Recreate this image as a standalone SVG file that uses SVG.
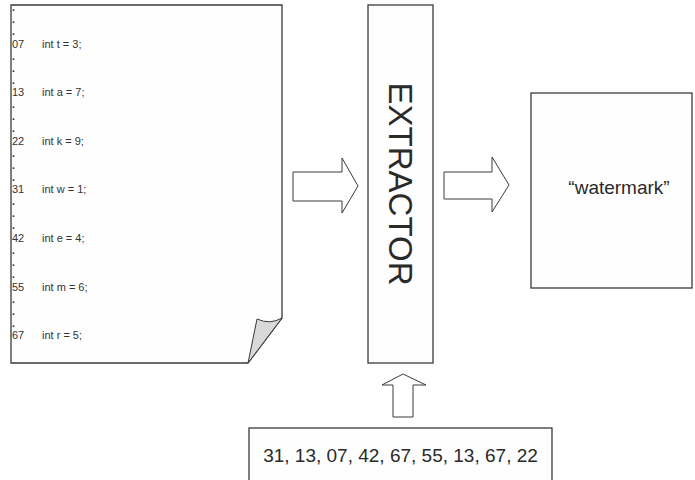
<svg xmlns="http://www.w3.org/2000/svg" width="695" height="480" viewBox="0 0 695 480">
  <style>
    .box { fill: #fefefe; stroke: #3a3a3a; stroke-width: 1.3; }
    .arrow { fill: #ffffff; stroke: #3a3a3a; stroke-width: 1; stroke-linejoin: miter; }
    .code { font-family: "Liberation Sans", Arial, sans-serif; font-size: 11px; fill: #333333; }
    .dot { font-family: "Liberation Sans", Arial, sans-serif; font-size: 10px; font-weight: bold; fill: #222222; }
    .label { font-family: "Liberation Sans", Arial, sans-serif; fill: #2a2a2a; }
  </style>

  <rect width="695" height="480" fill="#ffffff"/>

  <!-- source listing on a page with a curled corner -->
  <g id="source">
    <path class="box" d="M11,5 H282 V318 L248,363 H11 Z"/>
    <path d="M257,319 Q270,325 282,318 L248,363 Z" fill="#d9d9d9" stroke="#3a3a3a" stroke-width="1"/>
    <g class="dot">
      <text x="12" y="11">.</text><text x="12" y="23">.</text><text x="12" y="35">.</text>
      <text x="12" y="59.6">.</text><text x="12" y="71.6">.</text><text x="12" y="83.6">.</text>
      <text x="12" y="108.2">.</text><text x="12" y="120.2">.</text><text x="12" y="132.2">.</text>
      <text x="12" y="156.8">.</text><text x="12" y="168.8">.</text><text x="12" y="180.8">.</text>
      <text x="12" y="205.4">.</text><text x="12" y="217.4">.</text><text x="12" y="229.4">.</text>
      <text x="12" y="254">.</text><text x="12" y="266">.</text><text x="12" y="278">.</text>
      <text x="12" y="302.6">.</text><text x="12" y="314.6">.</text><text x="12" y="326.6">.</text>
    </g>
    <g class="code">
      <text x="12" y="47.5">07</text><text x="42" y="47.5">int t = 3;</text>
      <text x="12" y="96.1">13</text><text x="42" y="96.1">int a = 7;</text>
      <text x="12" y="144.7">22</text><text x="42" y="144.7">int k = 9;</text>
      <text x="12" y="193.3">31</text><text x="42" y="193.3">int w = 1;</text>
      <text x="12" y="241.9">42</text><text x="42" y="241.9">int e = 4;</text>
      <text x="12" y="290.5">55</text><text x="42" y="290.5">int m = 6;</text>
      <text x="12" y="339.1">67</text><text x="42" y="339.1">int r = 5;</text>
    </g>
  </g>

  <!-- extractor -->
  <g id="extractor">
    <rect class="box" x="368" y="5" width="65" height="358"/>
    <text class="label" font-size="33" text-anchor="middle" transform="translate(388.5,184) rotate(90)">EXTRACTOR</text>
  </g>

  <!-- extracted watermark -->
  <g id="watermark">
    <rect class="box" x="531" y="93" width="161" height="195"/>
    <text class="label" font-size="19" x="619" y="194" text-anchor="middle">“watermark”</text>
  </g>

  <!-- key: ordered line numbers -->
  <g id="key">
    <rect class="box" x="249" y="428" width="303" height="60"/>
    <text class="label" font-size="19" x="400.5" y="462" text-anchor="middle">31, 13, 07, 42, 67, 55, 13, 67, 22</text>
  </g>

  <!-- block arrows -->
  <g id="connectors">
    <path class="arrow" d="M293,172 H342 V158 L358,186 L342,213 V201 H293 Z"/>
    <path class="arrow" d="M444,172 H492 V157 L509,185 L492,212 V199 H444 Z"/>
    <path class="arrow" d="M393,417 V385 H382 L403,374 L426,385 H413 V417 Z"/>
  </g>
</svg>
